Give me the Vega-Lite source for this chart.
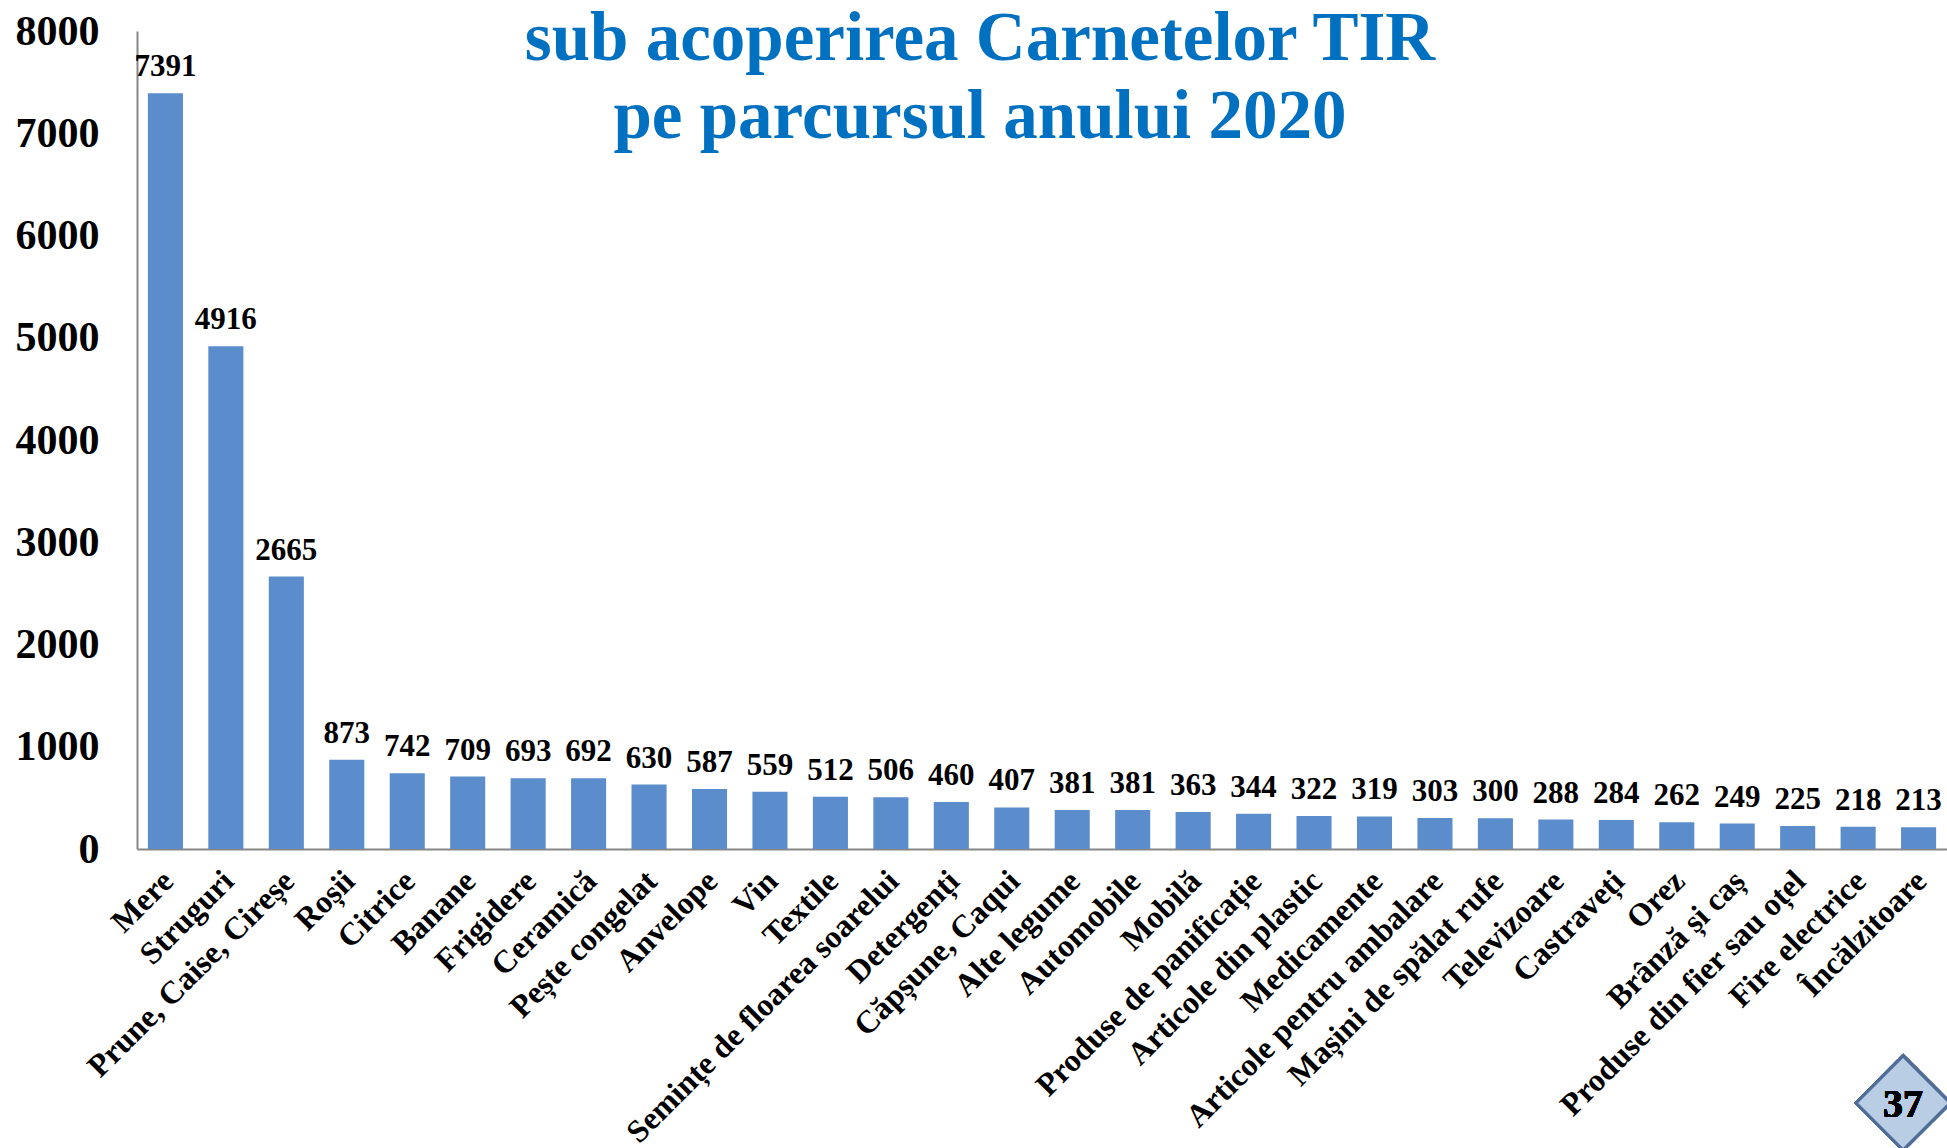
{
  "$schema": "https://vega.github.io/schema/vega-lite/v6.json",
  "width": 1810,
  "height": 818,
  "autosize": {"type": "none"},
  "padding": {"left": 137, "top": 31, "right": 0, "bottom": 299},
  "background": "white",
  "title": {
    "text": ["sub acoperirea Carnetelor TIR", "pe parcursul anului 2020"],
    "font": "Liberation Serif",
    "fontSize": 69,
    "fontWeight": "bold",
    "color": "#0070C0",
    "anchor": "middle",
    "frame": "group",
    "dx": -62,
    "offset": 0,
    "dy": 197,
    "baseline": "alphabetic",
    "lineHeight": 78
  },
  "data": {
    "values": [
      {"item": "Mere", "value": 7391},
      {"item": "Struguri", "value": 4916},
      {"item": "Prune, Caise, Cireșe", "value": 2665},
      {"item": "Roșii", "value": 873},
      {"item": "Citrice", "value": 742},
      {"item": "Banane", "value": 709},
      {"item": "Frigidere", "value": 693},
      {"item": "Ceramică", "value": 692},
      {"item": "Pește congelat", "value": 630},
      {"item": "Anvelope", "value": 587},
      {"item": "Vin", "value": 559},
      {"item": "Textile", "value": 512},
      {"item": "Semințe de floarea soarelui", "value": 506},
      {"item": "Detergenți", "value": 460},
      {"item": "Căpșune, Caqui", "value": 407},
      {"item": "Alte legume", "value": 381},
      {"item": "Automobile", "value": 381},
      {"item": "Mobilă", "value": 363},
      {"item": "Produse de panificație", "value": 344},
      {"item": "Articole din plastic", "value": 322},
      {"item": "Medicamente", "value": 319},
      {"item": "Articole pentru ambalare", "value": 303},
      {"item": "Mașini de spălat rufe", "value": 300},
      {"item": "Televizoare", "value": 288},
      {"item": "Castraveți", "value": 284},
      {"item": "Orez", "value": 262},
      {"item": "Brânză și caș", "value": 249},
      {"item": "Produse din fier sau oțel", "value": 225},
      {"item": "Fire electrice", "value": 218},
      {"item": "Încălzitoare", "value": 213}
    ]
  },
  "config": {
    "view": {"stroke": null},
    "font": "Liberation Serif"
  },
  "encoding": {
    "x": {
      "field": "item",
      "type": "nominal",
      "sort": null,
      "scale": {"paddingInner": 0.42, "paddingOuter": 0.18},
      "axis": {
        "title": null,
        "labelAngle": -45,
        "labelFont": "Liberation Serif",
        "labelFontSize": 32,
        "labelFontWeight": "bold",
        "labelColor": "black",
        "ticks": false,
        "domainColor": "#868686",
        "domainWidth": 2,
        "labelPadding": 16,
        "labelOffset": -8,
        "labelLimit": 1000
      }
    },
    "y": {
      "field": "value",
      "type": "quantitative",
      "scale": {"domain": [0, 8000], "nice": false, "clamp": false},
      "axis": {
        "title": null,
        "values": [0, 1000, 2000, 3000, 4000, 5000, 6000, 7000, 8000],
        "format": "d",
        "grid": false,
        "ticks": false,
        "labelFont": "Liberation Serif",
        "labelFontSize": 42,
        "labelFontWeight": "bold",
        "labelColor": "black",
        "labelPadding": 38,
        "domainColor": "#868686",
        "domainWidth": 2
      }
    }
  },
  "layer": [
    {"mark": {"type": "bar", "color": "#5B8CCB"}},
    {
      "mark": {
        "type": "text",
        "font": "Liberation Serif",
        "fontSize": 31,
        "fontWeight": "bold",
        "baseline": "alphabetic",
        "dy": -17,
        "color": "black"
      },
      "encoding": {"text": {"field": "value", "type": "quantitative", "format": "d"}}
    },
    {
      "mark": {
        "type": "point",
        "shape": "diamond",
        "size": 8836,
        "filled": true,
        "fill": "#B9CDE5",
        "stroke": "#4F6D96",
        "strokeWidth": 3,
        "opacity": 1
      },
      "encoding": {
        "x": {"datum": "Încălzitoare"},
        "y": {"datum": -2484},
        "xOffset": {"value": 2}
      }
    },
    {
      "mark": {
        "type": "text",
        "text": "37",
        "font": "Liberation Serif",
        "fontSize": 40,
        "fontWeight": "bold",
        "baseline": "middle",
        "dy": 2,
        "color": "black"
      },
      "encoding": {
        "x": {"datum": "Încălzitoare"},
        "y": {"datum": -2484},
        "xOffset": {"value": 2}
      }
    }
  ]
}
